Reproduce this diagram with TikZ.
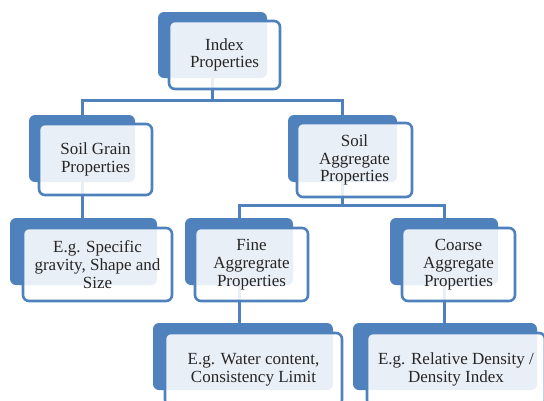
\documentclass[tikz,border=0pt]{standalone}
\usepackage{fontspec}
\setmainfont{Liberation Serif}
\newfontfamily\boxfont{Liberation Serif}
\usetikzlibrary{positioning}
\definecolor{boxblue}{HTML}{4F81BD}

\begin{document}
\begin{tikzpicture}[x=1pt,y=-1pt,
    back/.style={fill=boxblue,rounded corners=6pt,inner sep=0pt},
    front/.style={draw=boxblue,line width=2.6pt,fill=white,fill opacity=0.88,text opacity=1,
                  rounded corners=6pt,align=center,inner sep=0pt,text=black!85,
                  font=\boxfont\fontsize{17}{17.8}\selectfont},
    link/.style={draw=boxblue,line width=3pt}]
            \useasboundingbox (0,0) rectangle (544,400);
            % shadow boxes
            \node[back,minimum width=109pt,minimum height=66pt] (idxB) at (212.5,45) {};
            \node[back,minimum width=106pt,minimum height=67pt] (grainB) at (82,148.5) {};
            \node[back,minimum width=109pt,minimum height=67pt] (aggB) at (342.5,148.5) {};
            \node[back,minimum width=147pt,minimum height=67pt] (specB) at (83.5,251.5) {};
            \node[back,minimum width=108pt,minimum height=67pt] (fineB) at (239,251.5) {};
            \node[back,minimum width=108pt,minimum height=67pt] (coarseB) at (444,251.5) {};
            \node[back,minimum width=180pt,minimum height=67pt] (waterB) at (243,356.5) {};
            \node[back,minimum width=184pt,minimum height=67pt] (densB) at (445,356.5) {};
            % connectors
            \coordinate (bus1) at (212.5,100);
            \coordinate (bus2) at (342.5,205);
            \draw[link] (idxB.south) -- (idxB.south |- bus1);
            \draw[link] (grainB.north) |- (bus1) -| (aggB.north);
            \draw[link] (aggB.south) -- (aggB.south |- bus2);
            \draw[link] (fineB.north) |- (bus2) -| (coarseB.north);
            \draw[link] (grainB.south) -- (grainB.south |- specB.north);
            \draw[link] (fineB.south) -- (fineB.south |- waterB.north);
            \draw[link] (coarseB.south) -- (coarseB.south |- densB.north);
            % text boxes
            \node[front,minimum width=111pt,minimum height=68pt] (idx) at (224.5,55) {Index\\Properties};
            \node[front,minimum width=113pt,minimum height=71pt] (grain) at (95.5,159.5) {Soil Grain\\Properties};
            \node[front,minimum width=115pt,minimum height=74pt] (agg) at (354.5,160) {Soil\\Aggregate\\Properties};
            \node[front,minimum width=149pt,minimum height=73pt] (spec) at (97.5,264.5) {E.g. Specific\\gravity, Shape and\\Size};
            \node[front,minimum width=113pt,minimum height=73pt] (fine) at (251.5,264.5) {Fine\\Aggregrate\\Properties};
            \node[front,minimum width=113pt,minimum height=73pt] (coarse) at (458.5,264.5) {Coarse\\Aggregate\\Properties};
            \node[front,minimum width=177pt,minimum height=73pt] (water) at (253.5,369.5) {E.g. Water content,\\Consistency Limit};
            \node[front,minimum width=178pt,minimum height=73pt] (dens) at (456,369.5) {E.g. Relative Density /\\Density Index};
        \end{tikzpicture}
\end{document}
